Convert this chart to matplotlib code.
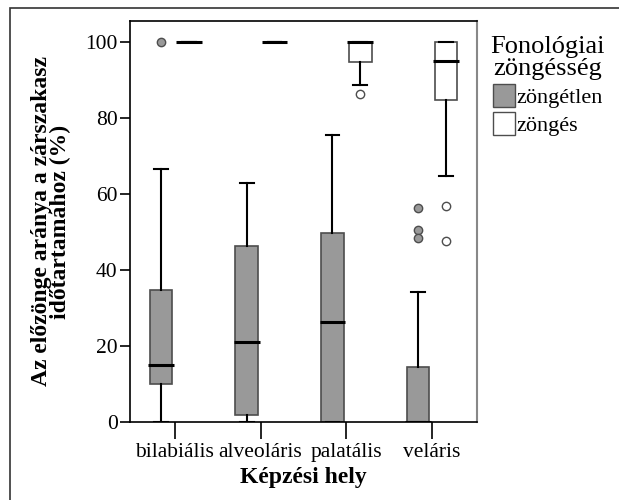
import matplotlib.pyplot as plt
from matplotlib.patches import Patch, Rectangle

plt.rcParams['font.family'] = ['Liberation Serif', 'DejaVu Serif']

categories = ['bilabiális', 'alveoláris', 'palatális', 'veláris']
groups = ['zöngétlen', 'zöngés']

# five-number summaries: whislo, q1, med, q3, whishi
voiceless = [
    (0, 10.0, 14.9, 34.7, 66.5),
    (0, 1.8, 21.0, 46.3, 63.0),
    (0, 0, 26.3, 49.6, 75.5),
    (0, 0, 0, 14.4, 34.3),
]
voiced = [
    (100, 100, 100, 100, 100),
    (100, 100, 100, 100, 100),
    (88.7, 94.8, 100, 100, 100),
    (64.6, 84.7, 94.9, 100, 100),
]
voiceless_out = [[100], [], [], [56.4, 50.5, 48.3]]
voiced_out = [[], [], [86.3], [56.8, 47.7]]

fills = ['#999999', '#ffffff']
offset = 0.163
box_w = 0.26

fig = plt.figure(figsize=(6.19, 5.0), dpi=100)
ax = fig.add_axes([130 / 619, 1 - 422 / 500, 347 / 619, 401 / 500])


def make_stats(summary, outliers):
    out = []
    for s, f in zip(summary, outliers):
        out.append(dict(whislo=s[0], q1=s[1], med=s[2], q3=s[3], whishi=s[4], fliers=f))
    return out


for gi, (summ, outl) in enumerate([(voiceless, voiceless_out), (voiced, voiced_out)]):
    stats = make_stats(summ, outl)
    pos = [i + 1 + (offset if gi else -offset) for i in range(len(categories))]
    ax.bxp(stats, positions=pos, widths=box_w, patch_artist=True,
           capwidths=0.16,
           boxprops=dict(facecolor=fills[gi], edgecolor='#4d4d4d', linewidth=1.2),
           whiskerprops=dict(color='black', linewidth=1.5),
           capprops=dict(color='black', linewidth=1.5),
           medianprops=dict(visible=False),
           flierprops=dict(marker='o', markersize=6, markerfacecolor=fills[gi],
                           markeredgecolor='#4d4d4d', markeredgewidth=1.0),
           zorder=2)
    for p, s in zip(pos, summ):
        ax.hlines(s[2], p - 0.15, p + 0.15, color='black', linewidth=2.2, zorder=4)

ax.set_xlim(1 - 45 / 86, 4 + 45 / 86)
ax.set_ylim(0, 105.5)
ax.set_xticks(range(1, 5))
ax.set_xticklabels(categories)
ax.set_yticks([0, 20, 40, 60, 80, 100])
ax.tick_params(axis='y', direction='out', length=7, width=1.2, labelsize=15.5, pad=2)
ax.tick_params(axis='x', direction='out', length=12, width=1.2, labelsize=15.5, pad=3)
for s in ['left', 'bottom', 'top']:
    ax.spines[s].set_linewidth(1.2)
ax.spines['right'].set_color('#888888')
ax.spines['right'].set_linewidth(1.5)

ax.set_xlabel('Képzési hely', fontsize=17, fontweight='bold', labelpad=4)
ax.set_ylabel('Az előzönge aránya a zárszakasz\nidőtartamához (%)', fontsize=17,
              fontweight='bold', labelpad=10, linespacing=0.9)

handles = [Patch(facecolor=fills[0], edgecolor='#4d4d4d'),
           Patch(facecolor=fills[1], edgecolor='#4d4d4d')]
leg = fig.legend(handles, groups, title='Fonológiai\nzöngésség', loc='upper left',
                 bbox_to_anchor=(486 / 619, 1 - 32 / 500), frameon=False,
                 fontsize=16, title_fontsize=19, handlelength=1.0, handleheight=1.2,
                 handletextpad=0.05, labelspacing=0.2, borderpad=0.2, borderaxespad=0)
leg.get_title().set_multialignment('center')
leg.get_title().set_linespacing(0.95)

# outer frame of the exported picture
fig.add_artist(Rectangle((10 / 619, -0.1), 1.2, 1.1 - 8 / 500, transform=fig.transFigure,
                         fill=False, edgecolor='#333333', linewidth=1.2))

fig.savefig('out.png', dpi=100)
